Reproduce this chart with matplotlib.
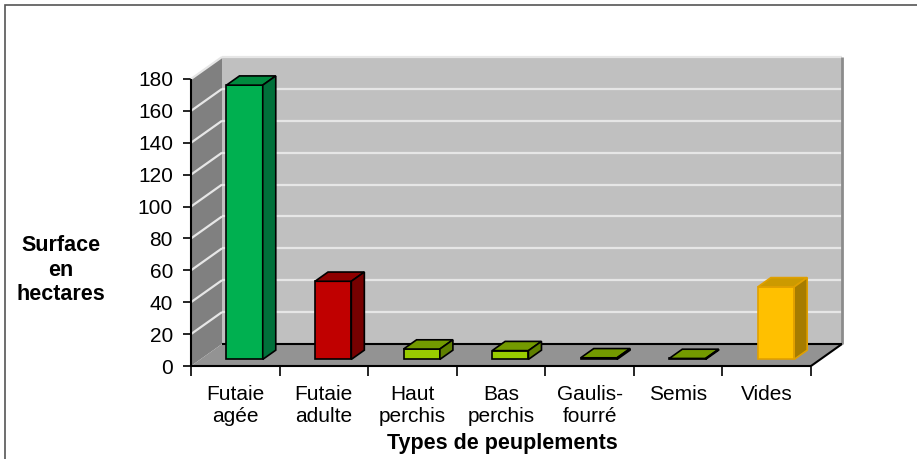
import matplotlib
matplotlib.use("Agg")
import matplotlib.pyplot as plt
from matplotlib.patches import Polygon, Rectangle
import numpy as np

plt.rcParams['font.family'] = ['Liberation Sans', 'DejaVu Sans']

# data
categories = ["Futaie\nagée", "Futaie\nadulte", "Haut\nperchis", "Bas\nperchis",
              "Gaulis-\nfourré", "Semis", "Vides"]
surfaces = [172, 49, 6.5, 5.5, 1.0, 0.6, 45.5]
y_ticks = [0, 20, 40, 60, 80, 100, 120, 140, 160, 180]

face_colors = ["#00b050", "#c00000", "#99cc00", "#99cc00", "#99cc00", "#99cc00", "#ffc000"]
top_colors = ["#008a3e", "#8e0000", "#739a00", "#739a00", "#739a00", "#739a00", "#cc9a00"]
side_colors = ["#00703a", "#760000", "#5f8000", "#5f8000", "#5f8000", "#5f8000", "#a67c00"]
edge_colors = ["black"] * 6 + ["#e0a000"]

W, H = 917, 459
fig = plt.figure(figsize=(W / 100, H / 100), dpi=100)
ax = fig.add_axes([191 / W, 1 - 366 / H, 620 / W, 287 / H])
n = len(categories)
x0, x1 = -0.5, n - 0.5
ymax = y_ticks[-1]
ax.set_xlim(x0, x1)
ax.set_ylim(0, ymax)
ax.patch.set_visible(False)
for s in ax.spines.values():
    s.set_visible(False)

# fake 3D depth, as offsets in data units
DX = 31 / (620 / n)
DY = 22 / (287 / ymax)


def poly(pts, fc, ec="none", lw=0, z=1):
    ax.add_patch(Polygon(pts, closed=True, facecolor=fc, edgecolor=ec,
                         linewidth=lw, clip_on=False, zorder=z, joinstyle="miter"))


def line(xs, ys, c, lw, z=3):
    ax.plot(xs, ys, color=c, lw=lw, clip_on=False, zorder=z, solid_capstyle="butt")


# walls and floor
poly([(x0 + DX, DY), (x1 + DX, DY), (x1 + DX, ymax + DY), (x0 + DX, ymax + DY)], "#c0c0c0")
poly([(x0, 0), (x0, ymax), (x0 + DX, ymax + DY), (x0 + DX, DY)], "#808080")
poly([(x0, 0), (x1, 0), (x1 + DX, DY), (x0 + DX, DY)], "#939393")

for v in y_ticks[1:]:
    line([x0 + DX, x1 + DX], [v + DY, v + DY], "#e6e6e6", 1.6, z=2)
    line([x0, x0 + DX], [v, v + DY], "#e6e6e6", 1.6, z=2)
line([x1 + DX, x1 + DX], [DY, ymax + DY], "#8c8c8c", 2.0, z=2)
line([x0 + DX, x1 + DX], [DY, DY], "black", 1.5, z=2)

# bars
f0, f1, w = 0.30, 0.72, 0.41
ddx, ddy = (f1 - f0) * DX, (f1 - f0) * DY
for i, v in enumerate(surfaces):
    xl = i - w / 2 + f0 * DX
    xr = xl + w
    yb = f0 * DY
    yt = yb + v
    ec = edge_colors[i]
    poly([(xl, yb), (xr, yb), (xr, yt), (xl, yt)], face_colors[i], ec, 1.2, z=4)
    poly([(xl, yt), (xr, yt), (xr + ddx, yt + ddy), (xl + ddx, yt + ddy)], top_colors[i], ec, 1.2, z=4)
    poly([(xr, yb), (xr + ddx, yb + ddy), (xr + ddx, yt + ddy), (xr, yt)], side_colors[i], ec, 1.2, z=4)

# front axes
line([x0, x1], [0, 0], "black", 1.5, z=5)
line([x1, x1 + DX], [0, DY], "black", 1.5, z=5)
line([x0, x0], [0, ymax], "black", 1.5, z=5)

ax.set_yticks(y_ticks)
ax.tick_params(axis="y", length=6, width=1.2, pad=7, labelsize=15, direction="out")
ax.set_xticks(np.arange(x0, x1 + 0.01, 1))
ax.set_xticklabels([])
ax.tick_params(axis="x", which="major", length=7, width=1.2, direction="out")
ax.set_xticks(range(n), categories, minor=True)
ax.tick_params(axis="x", which="minor", length=0, pad=13.5, labelsize=15)
for lbl in ax.get_xticklabels(minor=True):
    lbl.set_linespacing(1.22)

fig.text(61 / W, 1 - 270 / H, "Surface\nen\nhectares", ha="center", va="center",
         fontsize=15.5, fontweight="bold", linespacing=1.2)
fig.text(502 / W, 1 - 444 / H, "Types de peuplements", ha="center", va="center",
         fontsize=15.5, fontweight="bold")

# chart frame
fig.add_artist(Rectangle((5 / W, -0.1), 1.2, 1 - 5 / H + 0.1, transform=fig.transFigure,
                         fill=False, edgecolor="#555555", linewidth=1.2))

fig.savefig("out.png", dpi=100)
